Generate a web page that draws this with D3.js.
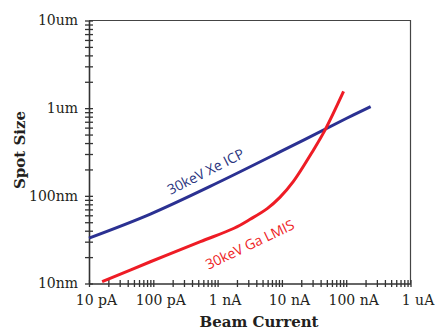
<!DOCTYPE html>
<html>
<head>
<meta charset="utf-8">
<script src="https://cdn.jsdelivr.net/npm/d3@7"></script>
<style>
  body { margin: 0; background: #fff; }
  svg { display: block; }
  .tick text { font-family: "DejaVu Serif", serif; font-size: 14px; fill: #231f20; }
</style>
</head>
<body>
<svg id="chart"></svg>
<script>
// beam current (A) vs spot size (nm)
const xeCurrent = [1e-11, 9e-11, 1e-9, 1e-8, 1e-7, 2.4e-7];
const xeSpot    = [33,    62,    141,  325,  762,  1043];

const gaCurrent = [1.6e-11, 9e-11, 5.4e-10, 1.8e-9, 3.2e-9, 5.9e-9, 9.3e-9, 1.5e-8, 3.1e-8, 4.7e-8, 9.1e-8];
const gaSpot    = [10.5,    17.7,  30,      42.7,   54,     71.5,   96,     145,    334,    565,    1550];

const xTickValues = [1e-11, 1e-10, 1e-9, 1e-8, 1e-7, 1e-6];
const xTickLabels = ["10 pA", "100 pA", "1 nA", "10 nA", "100 nA", "1 uA"];
const yTickValues = [10, 100, 1000, 10000];
const yTickLabels = ["10nm", "100nm", "1um", "10um"];

const width = 435;
const height = 332;
const marginLeft = 89;
const marginRight = 24.5;
const marginTop = 20.5;
const marginBottom = 48.5;

const svg = d3.select("#chart")
    .attr("width", width)
    .attr("height", height);

const x = d3.scaleLog()
    .domain([1e-11, 1e-6])
    .range([marginLeft, width - marginRight]);

const y = d3.scaleLog()
    .domain([10, 10000])
    .range([height - marginBottom, marginTop]);

// minor ticks 1..9 per decade
function logTicks(lo, hi) {
  const t = [];
  for (let e = Math.round(Math.log10(lo)); e < Math.round(Math.log10(hi)); e++) {
    for (let m = 1; m < 10; m++) t.push(m * Math.pow(10, e));
  }
  t.push(hi);
  return t;
}

// frame (top + right)
svg.append("path")
    .attr("d", `M${x(1e-11)},${y(10000)}H${x(1e-6)}V${y(10)}`)
    .attr("fill", "none")
    .attr("stroke", "#444")
    .attr("stroke-width", 1.2);

// x-axis: minor ticks
const xMinor = svg.append("g")
    .attr("transform", `translate(0,${y(10)})`)
    .call(d3.axisBottom(x).tickValues(logTicks(1e-11, 1e-6)).tickFormat("").tickSizeOuter(0));
xMinor.select(".domain").attr("stroke", "#333").attr("stroke-width", 1.6);
xMinor.selectAll(".tick line").attr("y1", -3.5).attr("y2", 3.5).attr("stroke", "#333").attr("stroke-width", 1.3);

// x-axis: labels
const xMajor = svg.append("g")
    .attr("transform", `translate(0,${y(10)})`)
    .call(d3.axisBottom(x).tickValues(xTickValues)
      .tickFormat((d, i) => xTickLabels[i]).tickSize(0).tickPadding(12));
xMajor.select(".domain").remove();
xMajor.selectAll(".tick text").attr("dx", 7);

// y-axis: minor ticks
const yMinor = svg.append("g")
    .attr("transform", `translate(${x(1e-11)},0)`)
    .call(d3.axisLeft(y).tickValues(logTicks(10, 10000)).tickFormat("").tickSizeOuter(0));
yMinor.select(".domain").attr("stroke", "#333").attr("stroke-width", 1.6);
yMinor.selectAll(".tick line").attr("x1", -4).attr("x2", 4).attr("stroke", "#333").attr("stroke-width", 1.3);

// y-axis: labels
const yMajor = svg.append("g")
    .attr("transform", `translate(${x(1e-11)},0)`)
    .call(d3.axisLeft(y).tickValues(yTickValues)
      .tickFormat((d, i) => yTickLabels[i]).tickSize(0).tickPadding(11));
yMajor.select(".domain").remove();

// axis titles
svg.append("text")
    .attr("x", 259)
    .attr("y", 327)
    .attr("text-anchor", "middle")
    .attr("font-family", "DejaVu Serif, serif")
    .attr("font-weight", "bold")
    .attr("font-size", 15)
    .attr("fill", "#231f20")
    .text("Beam Current");

svg.append("text")
    .attr("transform", "translate(25,150) rotate(-90)")
    .attr("text-anchor", "middle")
    .attr("font-family", "DejaVu Serif, serif")
    .attr("font-weight", "bold")
    .attr("font-size", 15)
    .attr("fill", "#231f20")
    .text("Spot Size");

// curves
const line = d3.line()
    .x(d => x(d[0]))
    .y(d => y(d[1]))
    .curve(d3.curveCatmullRom.alpha(0.5));

svg.append("path")
    .datum(d3.zip(xeCurrent, xeSpot))
    .attr("d", line)
    .attr("fill", "none")
    .attr("stroke", "#2b3192")
    .attr("stroke-width", 3);

svg.append("path")
    .datum(d3.zip(gaCurrent, gaSpot))
    .attr("d", line)
    .attr("fill", "none")
    .attr("stroke", "#ee1c25")
    .attr("stroke-width", 3);

// series labels
svg.append("text")
    .attr("transform", "translate(208,176) rotate(-27)")
    .attr("text-anchor", "middle")
    .attr("font-family", "Open Sans, sans-serif")
    .attr("font-size", 14)
    .attr("fill", "#2b3580")
    .text("30keV Xe ICP");

svg.append("text")
    .attr("transform", "translate(252,249) rotate(-25.5)")
    .attr("text-anchor", "middle")
    .attr("font-family", "Open Sans, sans-serif")
    .attr("font-size", 14)
    .attr("fill", "#ee1c25")
    .text("30keV Ga LMIS");
</script>
</body>
</html>
